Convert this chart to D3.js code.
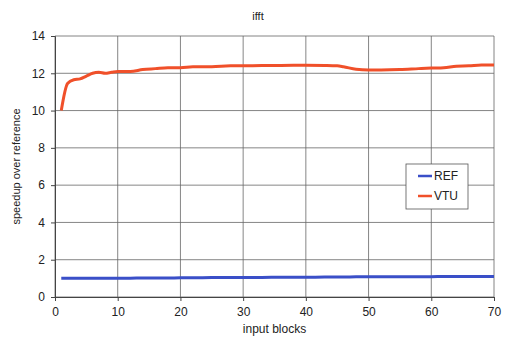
<!DOCTYPE html>
<html>
<head>
<meta charset="utf-8">
<script src="https://cdn.jsdelivr.net/npm/d3@7"></script>
<style>
  body { margin: 0; background: #fff; }
  text { font-family: "Liberation Sans", Arial, sans-serif; fill: #222; }
</style>
</head>
<body>
<svg id="chart"></svg>
<script>
// data
const blocks = [1, 2, 3, 4, 5, 6, 7, 8, 9, 10, 12, 14, 16, 18, 20, 22, 25, 28, 30, 33, 36, 40, 43, 45, 46, 48, 50, 52, 55, 58, 60, 62, 64, 66, 68, 70];
const vtu    = [10.0, 11.45, 11.65, 11.7, 11.85, 12.0, 12.05, 12.0, 12.05, 12.1, 12.1, 12.2, 12.25, 12.3, 12.3, 12.35, 12.35, 12.4, 12.4, 12.42, 12.42, 12.43, 12.42, 12.4, 12.35, 12.22, 12.18, 12.18, 12.2, 12.25, 12.28, 12.3, 12.38, 12.4, 12.45, 12.45];
const ref    = [1.0, 1.0, 1.0, 1.0, 1.0, 1.0, 1.0, 1.0, 1.0, 1.01, 1.01, 1.02, 1.02, 1.02, 1.03, 1.03, 1.04, 1.04, 1.05, 1.05, 1.06, 1.06, 1.07, 1.07, 1.07, 1.08, 1.08, 1.08, 1.09, 1.09, 1.09, 1.1, 1.1, 1.1, 1.1, 1.1];
const xTicks = [0, 10, 20, 30, 40, 50, 60, 70];
const yTicks = [0, 2, 4, 6, 8, 10, 12, 14];

const width = 507, height = 349;
const margin = {top: 36, right: 13, bottom: 52, left: 55};

const svg = d3.select("#chart")
    .attr("width", width)
    .attr("height", height);

const x = d3.scaleLinear().domain([0, 70]).range([margin.left, width - margin.right]);
const y = d3.scaleLinear().domain([0, 14]).range([height - margin.bottom, margin.top]);

// grid
svg.append("g")
    .selectAll("line")
    .data(xTicks)
    .join("line")
    .attr("x1", d => x(d)).attr("x2", d => x(d))
    .attr("y1", y(0)).attr("y2", y(14))
    .attr("stroke", "#666").attr("stroke-width", 0.8);

svg.append("g")
    .selectAll("line")
    .data(yTicks)
    .join("line")
    .attr("x1", x(0)).attr("x2", x(70))
    .attr("y1", d => y(d)).attr("y2", d => y(d))
    .attr("stroke", "#666").attr("stroke-width", 0.8);

// axes
const xAxis = svg.append("g")
    .attr("transform", `translate(0,${y(0)})`)
    .call(d3.axisBottom(x).tickValues(xTicks).tickSize(4).tickPadding(6));
const yAxis = svg.append("g")
    .attr("transform", `translate(${x(0)},0)`)
    .call(d3.axisLeft(y).tickValues(yTicks).tickSize(4).tickPadding(6));

[xAxis, yAxis].forEach(a => {
    a.select(".domain").attr("stroke", "#444");
    a.selectAll(".tick line").attr("stroke", "#444");
    a.selectAll("text").attr("font-size", 12).attr("fill", "#222")
        .attr("font-family", "Liberation Sans, Arial, sans-serif");
});

// lines
const line = vals => d3.line()
    .x((d, i) => x(blocks[i]))
    .y(d => y(d))
    .curve(d3.curveMonotoneX)(vals);

svg.append("path")
    .attr("d", line(ref))
    .attr("fill", "none")
    .attr("stroke", "#3a4fc8")
    .attr("stroke-width", 3);

svg.append("path")
    .attr("d", line(vtu))
    .attr("fill", "none")
    .attr("stroke", "#f0502a")
    .attr("stroke-width", 3);

// titles
svg.append("text")
    .attr("x", 258).attr("y", 20)
    .attr("text-anchor", "middle")
    .attr("font-size", 11)
    .text("ifft");

svg.append("text")
    .attr("x", (x(0) + x(70)) / 2).attr("y", 333)
    .attr("text-anchor", "middle")
    .attr("font-size", 12)
    .text("input blocks");

svg.append("text")
    .attr("transform", `translate(20,${(y(0) + y(14)) / 2}) rotate(-90)`)
    .attr("text-anchor", "middle")
    .attr("font-size", 11)
    .text("speedup over reference");

// legend
const legend = svg.append("g").attr("transform", "translate(406,164)");
legend.append("rect")
    .attr("width", 62).attr("height", 45)
    .attr("fill", "#fff").attr("stroke", "#555").attr("stroke-width", 0.8);

const items = [{name: "REF", color: "#3a4fc8"}, {name: "VTU", color: "#f0502a"}];
items.forEach((d, i) => {
    const g = legend.append("g").attr("transform", `translate(0,${12 + i * 20})`);
    g.append("line")
        .attr("x1", 12).attr("x2", 26)
        .attr("stroke", d.color).attr("stroke-width", 2.5);
    g.append("text")
        .attr("x", 28).attr("y", 4)
        .attr("font-size", 12)
        .text(d.name);
});
</script>
</body>
</html>
